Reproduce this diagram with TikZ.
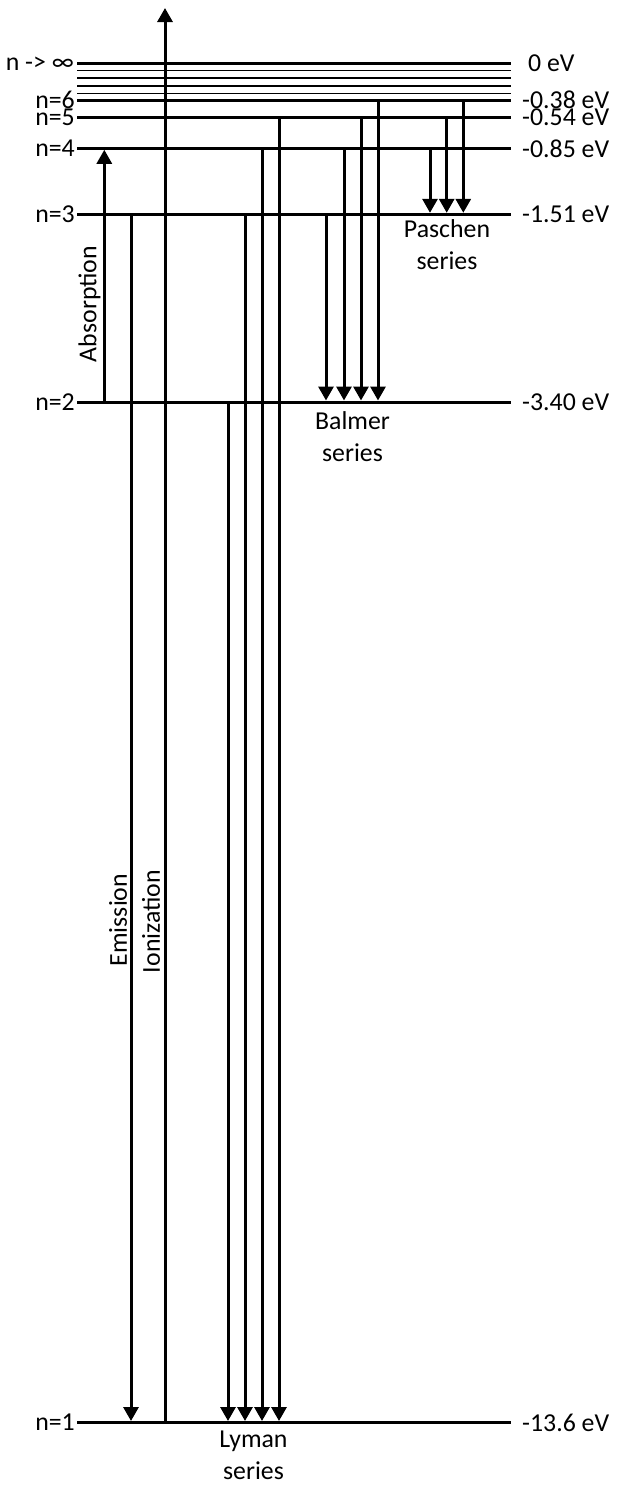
\documentclass[tikz,border=0pt]{standalone}
\usepackage{fontspec}
\setmainfont{Carlito}
\usetikzlibrary{arrows.meta}
\begin{document}
\begin{tikzpicture}[x=1pt,y=-1pt,
  level/.style={line width=3pt},
  sublevel/.style={line width=1.3pt},
  arr/.style={line width=3pt,-{Triangle[length=14pt,width=15pt]},shorten >=1.5pt},
  lab/.style={font=\fontsize{25.8}{32}\selectfont, inner sep=0pt},
  ]
\useasboundingbox (0,0) rectangle (619,1486);
% energy levels
\foreach \n/\y in {ninf/63.3,t1/70.3,t2/78,t3/86,t4/93.7,n6/100,n5/117.3,n4/148.3,n3/214.3,n2/402,n1/1422.5}{
  \coordinate (L\n) at (77,\y);
  \coordinate (R\n) at (511,\y);
}
\foreach \n in {ninf,n6,n5,n4,n3,n2,n1} \draw[level] (L\n) -- (R\n);
\foreach \n in {t1,t2,t3,t4} \draw[sublevel] (L\n) -- (R\n);
% left labels
\node[lab,anchor=east] (lninf) at ([xshift=-3]Lninf) {n -> ∞};
\node[lab,anchor=east] (lnsix) at ([xshift=-2]Ln6) {n=6};
\node[lab,anchor=east] (lnfive) at ([xshift=-2]Ln5) {n=5};
\node[lab,anchor=east] (lnfour) at ([xshift=-2]Ln4) {n=4};
\node[lab,anchor=east] (lnthree) at ([xshift=-2]Ln3) {n=3};
\node[lab,anchor=east] (lntwo) at ([xshift=-2]Ln2) {n=2};
\node[lab,anchor=east] (lnone) at ([xshift=-2]Ln1) {n=1};
% right labels
\node[lab,anchor=west] (eninf) at ([xshift=17]Rninf) {0 eV};
\node[lab,anchor=west] (ensix) at ([xshift=11]Rn6) {-0.38 eV};
\node[lab,anchor=west] (enfive) at ([xshift=11]Rn5) {-0.54 eV};
\node[lab,anchor=west] (enfour) at ([xshift=11]Rn4) {-0.85 eV};
\node[lab,anchor=west] (enthree) at ([xshift=11]Rn3) {-1.51 eV};
\node[lab,anchor=west] (entwo) at ([xshift=11]Rn2) {-3.40 eV};
\node[lab,anchor=west] (enone) at ([xshift=11]Rn1) {-13.6 eV};
% series labels
\node[lab,align=center,anchor=north] (paschen) at (447,219.7) {Paschen\\series};
\node[lab,align=center,anchor=north] (balmer) at (352.5,411) {Balmer\\series};
\node[lab,align=center,anchor=north] (lyman) at (253.5,1430.5) {Lyman\\series};
% rotated labels
\node[lab,rotate=90] (absorption) at (89.5,304) {Absorption};
\node[lab,rotate=90] (emission) at (118,920) {Emission};
\node[lab,rotate=90] (ionization) at (151,921.5) {Ionization};
% arrow columns
\foreach \a/\x in {ion/165,abs/104.3,emi/131,lytwo/228,lythree/245,lyfour/262,lyfive/279,bathree/326,bafour/344,bafive/361,basix/378,pafour/430,pafive/446.7,pasix/463.3}
  \coordinate (X\a) at (\x,0);
\coordinate (iontop) at (165,8);
\draw[arr,shorten >=0pt] (Xion |- Ln1) -- (iontop);
\draw[arr] (Xabs |- Ln2) -- (Xabs |- Ln4);
\draw[arr] (Xemi |- Ln3) -- (Xemi |- Ln1);
% Lyman
\draw[arr] (Xlytwo |- Ln2) -- (Xlytwo |- Ln1);
\draw[arr] (Xlythree |- Ln3) -- (Xlythree |- Ln1);
\draw[arr] (Xlyfour |- Ln4) -- (Xlyfour |- Ln1);
\draw[arr] (Xlyfive |- Ln5) -- (Xlyfive |- Ln1);
% Balmer
\draw[arr] (Xbathree |- Ln3) -- (Xbathree |- Ln2);
\draw[arr] (Xbafour |- Ln4) -- (Xbafour |- Ln2);
\draw[arr] (Xbafive |- Ln5) -- (Xbafive |- Ln2);
\draw[arr] (Xbasix |- Ln6) -- (Xbasix |- Ln2);
% Paschen
\draw[arr] (Xpafour |- Ln4) -- (Xpafour |- Ln3);
\draw[arr] (Xpafive |- Ln5) -- (Xpafive |- Ln3);
\draw[arr] (Xpasix |- Ln6) -- (Xpasix |- Ln3);
\end{tikzpicture}
\end{document}
